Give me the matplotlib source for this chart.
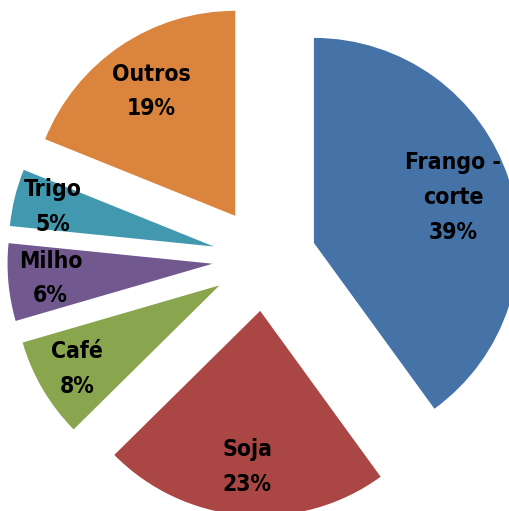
import matplotlib
matplotlib.use("Agg")
import matplotlib.pyplot as plt
import numpy as np

categories = ["Frango -\ncorte", "Soja", "Café", "Milho", "Trigo", "Outros"]
values = [40.0, 22.6, 7.9, 6.1, 4.5, 18.9]   # slice sizes as drawn
pct_labels = ["39%", "23%", "8%", "6%", "5%", "19%"]   # percentages as printed
colors = ["#4572A7", "#AA4643", "#89A54E", "#71588F", "#4198AF", "#DB843D"]

explode_amt = 0.254
label_dist = [0.714, 0.764, 0.806, 0.794, 0.81, 0.732]

fig = plt.figure(figsize=(5.09, 5.11), dpi=100)
ax = fig.add_axes([0, 0, 1, 1])
wedges, _ = ax.pie(values, colors=colors, startangle=90, counterclock=False,
                   explode=[explode_amt] * len(values), radius=1.0,
                   wedgeprops=dict(linewidth=0))
R = 205.0
cxp, cyp = 264.4, 252.0
ax.set_xlim(-cxp / R, (509 - cxp) / R)
ax.set_ylim(-cyp / R, (511 - cyp) / R)
ax.set_aspect("auto")
ax.axis("off")

for w, cat, lab, d in zip(wedges, categories, pct_labels, label_dist):
    th = np.deg2rad((w.theta1 + w.theta2) / 2)
    cx, cy = w.center
    x = cx + d * w.r * np.cos(th)
    y = cy + d * w.r * np.sin(th)
    ax.text(x, y, f"{cat}\n{lab}", ha="center", va="center",
            fontsize=16.5, fontweight="bold", fontstretch="condensed",
            linespacing=1.65, family=["DejaVu Sans"])

fig.savefig("out.png", dpi=100)
